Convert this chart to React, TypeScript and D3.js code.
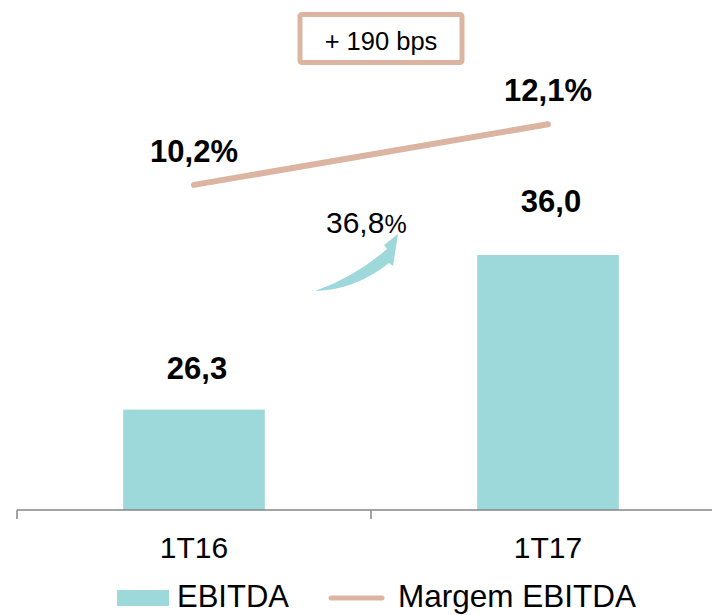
import { useEffect, useRef } from 'react';
import * as d3 from 'd3';

// Data
const categories = ['1T16', '1T17'];
const ebitda = [26.3, 36.0];
const margem = [10.2, 12.1];
const ebitdaLabels = ['26,3', '36,0'];
const margemLabels = ['10,2%', '12,1%'];
const growthLabel = '36,8';
const bpsLabel = '+ 190 bps';
const legendItems = ['EBITDA', 'Margem EBITDA'];

const W = 712;
const H = 615;
const BAR_COLOR = '#9dd8db';
const LINE_COLOR = '#dbb5a2';
const FONT = '"Liberation Sans", Arial, sans-serif';

export default function App() {
  const ref = useRef<SVGSVGElement>(null);

  useEffect(() => {
    if (!ref.current) return;
    const svg = d3.select(ref.current);
    svg.selectAll('*').remove();

    const baseY = 510;

    const x = d3.scaleBand<string>()
      .domain(categories)
      .range([17, 725])
      .padding(0);

    const yBar = d3.scaleLinear().domain([20, 52]).range([baseY, 0]);
    const yLine = d3.scaleLinear().domain([0, 16]).range([baseY, 0]);

    const barW = x.bandwidth() * 0.4;
    const cx = (c: string) => (x(c) ?? 0) + x.bandwidth() / 2;

    // Bars
    svg.append('g')
      .selectAll('rect')
      .data(categories)
      .enter()
      .append('rect')
      .attr('x', d => cx(d) - barW / 2)
      .attr('y', (_d, i) => yBar(ebitda[i]))
      .attr('width', barW)
      .attr('height', (_d, i) => baseY - yBar(ebitda[i]))
      .attr('fill', BAR_COLOR);

    // Axis
    const axis = svg.append('g').attr('stroke', '#868686').attr('stroke-width', 1.5);
    axis.append('line')
      .attr('x1', x.range()[0]).attr('x2', x.range()[1])
      .attr('y1', baseY).attr('y2', baseY);
    const bounds = [...categories.map(c => x(c) ?? 0), x.range()[1]];
    axis.selectAll('line.tick')
      .data(bounds)
      .enter()
      .append('line')
      .attr('class', 'tick')
      .attr('x1', d => d).attr('x2', d => d)
      .attr('y1', baseY).attr('y2', baseY + 9);

    svg.append('g')
      .selectAll('text')
      .data(categories)
      .enter()
      .append('text')
      .attr('x', d => cx(d))
      .attr('y', 558)
      .attr('text-anchor', 'middle')
      .style('font-family', FONT)
      .style('font-size', '30px')
      .text(d => d);

    // Bar labels
    const barLabelGap = [31, 43];
    svg.append('g')
      .selectAll('text')
      .data(categories)
      .enter()
      .append('text')
      .attr('x', d => cx(d) + 3)
      .attr('y', (_d, i) => yBar(ebitda[i]) - barLabelGap[i])
      .attr('text-anchor', 'middle')
      .style('font-family', FONT)
      .style('font-weight', 'bold')
      .style('font-size', '31px')
      .text((_d, i) => ebitdaLabels[i]);

    // Margin line
    const line = d3.line<number>()
      .x((_d, i) => cx(categories[i]))
      .y(d => yLine(d));

    svg.append('path')
      .datum(margem)
      .attr('d', line)
      .attr('fill', 'none')
      .attr('stroke', LINE_COLOR)
      .attr('stroke-width', 6)
      .attr('stroke-linecap', 'round');

    svg.append('g')
      .selectAll('text')
      .data(categories)
      .enter()
      .append('text')
      .attr('x', d => cx(d))
      .attr('y', (_d, i) => yLine(margem[i]) - 23)
      .attr('text-anchor', 'middle')
      .style('font-family', FONT)
      .style('font-weight', 'bold')
      .style('font-size', '31px')
      .text((_d, i) => margemLabels[i]);

    // Growth arrow between the bars
    const mid = x(categories[1]) ?? 0;
    const arrow = svg.append('g').attr('transform', `translate(${mid}, 0)`);
    arrow.append('path')
      .attr('d', 'M -56,291 Q -16,277 16,249 L 13,245 L 27,234 L 22,266 L 18,263 Q -16,290 -56,291 Z')
      .attr('fill', BAR_COLOR);

    const growth = arrow.append('text')
      .attr('x', -45)
      .attr('y', 233)
      .style('font-family', FONT)
      .style('font-size', '30px');
    growth.append('tspan').text(growthLabel);
    growth.append('tspan').style('font-size', '25px').text('%');

    // bps box
    const box = svg.append('g').attr('transform', `translate(${mid + 10}, 0)`);
    box.append('rect')
      .attr('x', -81).attr('y', 14.5)
      .attr('width', 162).attr('height', 48)
      .attr('rx', 2)
      .attr('fill', '#fff')
      .attr('stroke', LINE_COLOR)
      .attr('stroke-width', 5);
    box.append('text')
      .attr('x', 0).attr('y', 50)
      .attr('text-anchor', 'middle')
      .style('font-family', FONT)
      .style('font-size', '25.5px')
      .text(bpsLabel);

    // Legend
    const lg = svg.append('g');
    lg.append('rect')
      .attr('x', 117).attr('y', 590)
      .attr('width', 52).attr('height', 16)
      .attr('fill', BAR_COLOR);
    lg.append('text')
      .attr('x', 177).attr('y', 607)
      .style('font-family', FONT)
      .style('font-size', '31px')
      .text(legendItems[0]);
    lg.append('line')
      .attr('x1', 331).attr('x2', 382)
      .attr('y1', 598).attr('y2', 598)
      .attr('stroke', LINE_COLOR)
      .attr('stroke-width', 5)
      .attr('stroke-linecap', 'round');
    lg.append('text')
      .attr('x', 398).attr('y', 607)
      .style('font-family', FONT)
      .style('font-size', '31.5px')
      .text(legendItems[1]);
  }, []);

  return (
    <svg
      ref={ref}
      width={W}
      height={H}
      style={{ position: 'absolute', left: 0, top: 0, display: 'block', background: '#fff' }}
    />
  );
}
